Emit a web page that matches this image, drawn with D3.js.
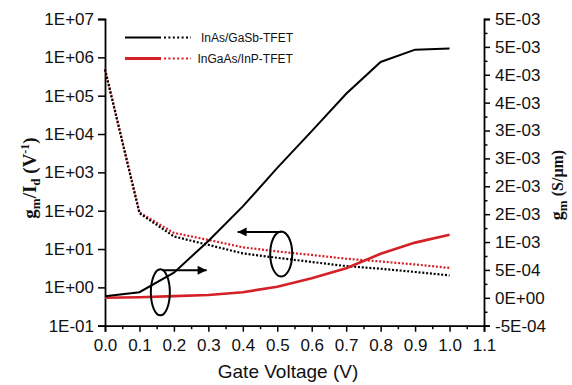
<!DOCTYPE html>
<html>
<head>
<meta charset="utf-8">
<script src="https://cdn.jsdelivr.net/npm/d3@7"></script>
<style>
  html, body { margin: 0; padding: 0; background: #fff; }
  svg { display: block; }
</style>
</head>
<body>
<svg id="chart" width="572" height="385"></svg>
<script>
// ---- data ----
const gateVoltage = [0.0, 0.1, 0.2, 0.3, 0.4, 0.5, 0.6, 0.7, 0.8, 0.9, 1.0];
// gm/Id (V^-1), left log axis
const gmIdInAs   = [4.8e5, 86, 21.3, 12.8, 7.7, 5.9, 4.6, 3.58, 3.06, 2.52, 2.05];
const gmIdInGaAs = [5.0e5, 90, 26.3, 17.3, 11.1, 8.65, 7.0, 5.58, 4.74, 3.96, 3.21];
// gm (S/um), right linear axis
const gmInAs   = [0.03e-3, 0.10e-3, 0.45e-3, 1.02e-3, 1.64e-3, 2.33e-3, 2.99e-3, 3.66e-3, 4.23e-3, 4.45e-3, 4.47e-3];
const gmInGaAs = [0.00e-3, 0.01e-3, 0.03e-3, 0.05e-3, 0.10e-3, 0.20e-3, 0.35e-3, 0.53e-3, 0.79e-3, 0.99e-3, 1.13e-3];

const seriesNames = ["InAs/GaSb-TFET", "InGaAs/InP-TFET"];
const seriesColors = ["#000000", "#d42026"];

const xTickValues = [0.0, 0.1, 0.2, 0.3, 0.4, 0.5, 0.6, 0.7, 0.8, 0.9, 1.0, 1.1];
const xTickLabels = ["0.0", "0.1", "0.2", "0.3", "0.4", "0.5", "0.6", "0.7", "0.8", "0.9", "1.0", "1.1"];
const leftTickValues = [1e-1, 1e0, 1e1, 1e2, 1e3, 1e4, 1e5, 1e6, 1e7];
const leftTickLabels = ["1E-01", "1E+00", "1E+01", "1E+02", "1E+03", "1E+04", "1E+05", "1E+06", "1E+07"];
const rightTickValues = [-5e-4, 0, 5e-4, 1e-3, 1.5e-3, 2e-3, 2.5e-3, 3e-3, 3.5e-3, 4e-3, 4.5e-3, 5e-3];
const rightTickLabels = ["-5E-04", "0E+00", "5E-04", "1E-03", "2E-03", "2E-03", "3E-03", "3E-03", "4E-03", "4E-03", "5E-03", "5E-03"];

// annotation anchors (data coords)
const annotGm = { cx: 0.165, cy: 0.0, arrowTo: 0.295 };
const annotGmId = { cx: 0.51, cy: 7.45, arrowTo: 0.385 };

// ---- layout ----
const svg = d3.select("#chart");
const L = 105, R = 484, T = 19, B = 325.7;

const x = d3.scaleLinear().domain([0, 1.1]).range([L, R]);
const yL = d3.scaleLog().domain([1e-1, 1e7]).range([B, T]);
const yR = d3.scaleLinear().domain([-5e-4, 5e-3]).range([B, T]);

const tickFont = "'Liberation Sans', Arial, sans-serif";

// x axis
const xAxis = d3.axisBottom(x).tickValues(xTickValues)
  .tickFormat((d, i) => xTickLabels[i]).tickSize(6).tickPadding(7);
svg.append("g").attr("transform", `translate(0,${B})`).call(xAxis);
const xMinor = d3.axisBottom(x).tickValues(d3.range(0.05, 1.1, 0.1)).tickFormat("").tickSize(3.5);
svg.append("g").attr("transform", `translate(0,${B})`).call(xMinor).select(".domain").remove();

// left axis
const leftAxis = d3.axisLeft(yL).tickValues(leftTickValues)
  .tickFormat((d, i) => leftTickLabels[i]).tickSize(7).tickPadding(4);
svg.append("g").attr("transform", `translate(${L},0)`).call(leftAxis);

// right axis
const rightAxis = d3.axisRight(yR).tickValues(rightTickValues)
  .tickFormat((d, i) => rightTickLabels[i]).tickSize(6).tickPadding(5);
svg.append("g").attr("transform", `translate(${R},0)`).call(rightAxis);
const rMinor = d3.axisRight(yR).tickValues(d3.range(-2.5e-4, 5e-3, 5e-4)).tickFormat("").tickSize(3.5);
svg.append("g").attr("transform", `translate(${R},0)`).call(rMinor).select(".domain").remove();

svg.selectAll(".domain").attr("stroke", "#000").attr("stroke-width", 1.8);
svg.selectAll(".tick line").attr("stroke", "#000").attr("stroke-width", 1.5);
svg.selectAll(".tick text").attr("font-family", tickFont).attr("font-size", 17).attr("fill", "#111");

// ---- lines ----
const lineL = d3.line().x((d, i) => x(gateVoltage[i])).y(d => yL(d));
const lineR = d3.line().x((d, i) => x(gateVoltage[i])).y(d => yR(d));

const plot = svg.append("g");
plot.append("path").datum(gmIdInGaAs).attr("d", lineL)
  .attr("fill", "none").attr("stroke", seriesColors[1]).attr("stroke-width", 2.2).attr("stroke-dasharray", "2,1.8");
plot.append("path").datum(gmIdInAs).attr("d", lineL)
  .attr("fill", "none").attr("stroke", seriesColors[0]).attr("stroke-width", 2.2).attr("stroke-dasharray", "2,1.8");
plot.append("path").datum(gmInGaAs).attr("d", lineR)
  .attr("fill", "none").attr("stroke", seriesColors[1]).attr("stroke-width", 2.6);
plot.append("path").datum(gmInAs).attr("d", lineR)
  .attr("fill", "none").attr("stroke", seriesColors[0]).attr("stroke-width", 2);

// ---- annotations ----
svg.append("defs").append("marker")
  .attr("id", "arrow").attr("viewBox", "0 0 10 10").attr("refX", 10).attr("refY", 5)
  .attr("markerWidth", 16).attr("markerHeight", 9).attr("markerUnits", "userSpaceOnUse")
  .attr("orient", "auto")
  .append("path").attr("d", "M0,0 L10,5 L0,10 z").attr("fill", "#000");

const e1x = x(annotGm.cx) - 1.5, e1y = yR(annotGm.cy) - 5.5;
svg.append("ellipse").attr("cx", e1x).attr("cy", e1y).attr("rx", 9.5).attr("ry", 23)
  .attr("fill", "none").attr("stroke", "#000").attr("stroke-width", 2);
svg.append("line").attr("x1", e1x + 3).attr("y1", e1y - 22).attr("x2", x(annotGm.arrowTo)).attr("y2", e1y - 22)
  .attr("stroke", "#000").attr("stroke-width", 2).attr("marker-end", "url(#arrow)");

const e2x = x(annotGmId.cx) + 0.5, e2y = yL(annotGmId.cy);
svg.append("ellipse").attr("cx", e2x).attr("cy", e2y).attr("rx", 11).attr("ry", 22.5)
  .attr("fill", "none").attr("stroke", "#000").attr("stroke-width", 2);
svg.append("line").attr("x1", e2x).attr("y1", e2y - 22).attr("x2", x(annotGmId.arrowTo)).attr("y2", e2y - 22)
  .attr("stroke", "#000").attr("stroke-width", 2).attr("marker-end", "url(#arrow)");

// ---- legend ----
const legY = [37.5, 58.5];
const leg = svg.append("g");
seriesNames.forEach((name, i) => {
  leg.append("line").attr("x1", 125).attr("x2", 161).attr("y1", legY[i]).attr("y2", legY[i])
    .attr("stroke", seriesColors[i]).attr("stroke-width", i === 0 ? 2.2 : 3);
  leg.append("line").attr("x1", 164).attr("x2", 191).attr("y1", legY[i]).attr("y2", legY[i])
    .attr("stroke", seriesColors[i]).attr("stroke-width", 2.2).attr("stroke-dasharray", "2,2.4");
  leg.append("text").attr("x", i === 0 ? 201 : 197.5).attr("y", legY[i] + 4.5)
    .attr("font-family", tickFont).attr("font-size", 12).attr("fill", "#111").text(name);
});

// ---- axis titles ----
svg.append("text").attr("x", 288).attr("y", 378).attr("text-anchor", "middle")
  .attr("font-family", tickFont).attr("font-size", 19).attr("fill", "#111").text("Gate Voltage (V)");

const serif = "'Liberation Serif', 'Times New Roman', serif";
const lt = svg.append("text").attr("transform", "translate(36,178) rotate(-90)")
  .attr("text-anchor", "middle").attr("font-family", serif).attr("font-weight", "bold")
  .attr("font-size", 19).attr("fill", "#111");
lt.append("tspan").text("g");
lt.append("tspan").attr("font-size", 13).attr("dy", 4).text("m");
lt.append("tspan").attr("dy", -4).text("/I");
lt.append("tspan").attr("font-size", 13).attr("dy", 4).text("d");
lt.append("tspan").attr("dy", -4).text(" (V");
lt.append("tspan").attr("font-size", 12).attr("dy", -7).text("-1");
lt.append("tspan").attr("dy", 7).text(")");

const rt = svg.append("text").attr("transform", "translate(563,185) rotate(-90)")
  .attr("text-anchor", "middle").attr("font-family", serif).attr("font-weight", "bold")
  .attr("font-size", 18).attr("fill", "#111");
rt.append("tspan").text("g");
rt.append("tspan").attr("font-size", 13).attr("dy", 4).text("m");
rt.append("tspan").attr("dy", -4).attr("font-size", 16).text(" (S/μm)");
</script>
</body>
</html>
